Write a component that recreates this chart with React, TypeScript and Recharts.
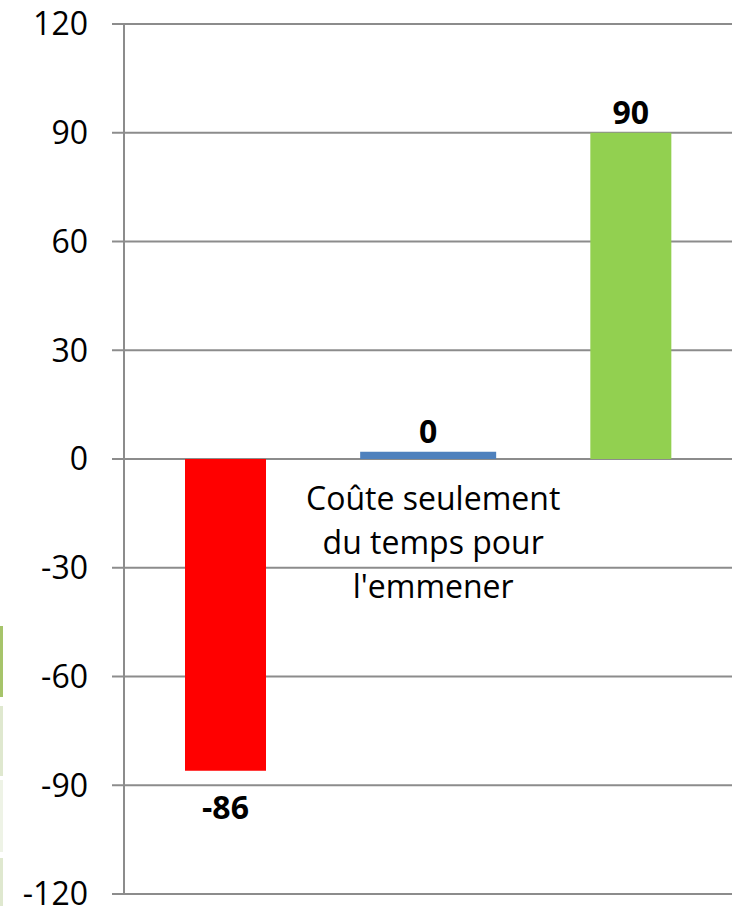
import React from "react";
import { BarChart, Bar, XAxis, YAxis, CartesianGrid, Cell, LabelList } from "recharts";

const categories = ["A", "B", "C"];
const values = [-86, 2, 90];
const valueLabels = ["-86", "0", "90"];
const barColors = ["#ff0000", "#4f81bd", "#92d050"];
const barWidths = [81, 136, 81];
const yTicks = [-120, -90, -60, -30, 0, 30, 60, 90, 120];
const noteLines = ["Coûte seulement", "du temps pour", "l'emmener"];

const data = categories.map((name, i) => ({ name, value: values[i] }));

const FONT = "'Open Sans', sans-serif";

const WideBar = (props: any) => {
  const { x, y, width, height, fill, index } = props;
  const w = barWidths[index];
  const cx = x + width / 2;
  const top = Math.min(y, y + height);
  const h = Math.abs(height);
  return <rect x={cx - w / 2} y={top} width={w} height={h} fill={fill} />;
};

const ValueLabel = (props: any) => {
  const { x, y, width, height, index } = props;
  const cx = x + width / 2;
  const top = Math.min(y, y + height);
  const bottom = Math.max(y, y + height);
  const neg = values[index] < 0;
  return (
    <text
      x={cx}
      y={neg ? bottom + 48 : top - 9}
      textAnchor="middle"
      fontFamily={FONT}
      fontWeight="bold"
      fontSize={32}
      fill="#000"
    >
      {valueLabels[index]}
    </text>
  );
};

const NoteLabel = (props: any) => {
  const { x, y, width, height, index } = props;
  if (index !== 1) return null;
  const cx = x + width / 2 + 5;
  const bottom = Math.max(y, y + height);
  return (
    <text textAnchor="middle" fontFamily={FONT} fontSize={32} fill="#000">
      {noteLines.map((line, i) => (
        <tspan key={i} x={cx} y={bottom + 51 + i * 44}>
          {line}
        </tspan>
      ))}
    </text>
  );
};

const strips = [
  { top: 626, h: 71, c: "#a6c46a" },
  { top: 706, h: 70, c: "#dfe8cf" },
  { top: 780, h: 72, c: "#eef3e6" },
  { top: 858, h: 48, c: "#dfe8cf" },
];

export default function App() {
  return (
    <div style={{ position: "absolute", left: 0, top: 0, width: 732, height: 906, background: "#fff" }}>
      {strips.map((s, i) => (
        <div
          key={i}
          style={{ position: "absolute", left: 0, top: s.top, width: 3, height: s.h, background: s.c }}
        />
      ))}
      <BarChart
        width={732}
        height={906}
        data={data}
        margin={{ top: 24, right: 0, bottom: 12, left: 0 }}
        barSize={81}
      >
        <CartesianGrid vertical={false} stroke="#8c8c8c" strokeWidth={2} />
        <XAxis dataKey="name" hide />
        <YAxis
          width={124}
          domain={[-120, 120]}
          ticks={yTicks}
          interval={0}
          tickSize={12}
          tickMargin={24}
          axisLine={{ stroke: "#8c8c8c", strokeWidth: 2 }}
          tickLine={{ stroke: "#8c8c8c", strokeWidth: 2 }}
          tick={{ fontSize: 32, fill: "#000", fontFamily: FONT }}
        />
        <Bar dataKey="value" isAnimationActive={false} shape={WideBar}>
          {data.map((d, i) => (
            <Cell key={d.name} fill={barColors[i]} />
          ))}
          <LabelList dataKey="value" content={ValueLabel} />
          <LabelList dataKey="value" content={NoteLabel} />
        </Bar>
      </BarChart>
    </div>
  );
}
